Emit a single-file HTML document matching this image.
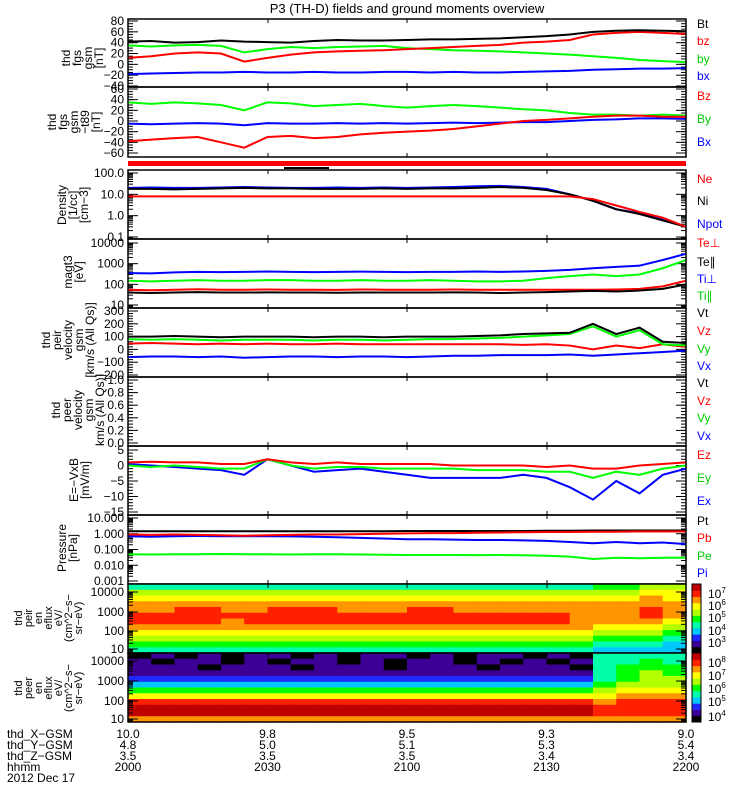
<!DOCTYPE html>
<html><head><meta charset="utf-8"><style>
html,body{margin:0;padding:0;background:#fff;width:750px;height:800px;overflow:hidden}
svg{display:block;font-family:"Liberation Sans",sans-serif}
</style></head><body>
<svg id="chart" width="750" height="800" viewBox="0 0 750 800" xmlns="http://www.w3.org/2000/svg">
<text x="407" y="13" font-size="13" text-anchor="middle">P3 (TH-D) fields and ground moments overview</text>
</svg>
<script>
// ---- data (25 samples, 2000 -> 2200 UT) ----
const bt=[42,43,40,41,44,42,41,40,43,45,44,44,45,46,46,47,48,50,52,55,60,62,63,62,61];
const bz=[12,15,20,22,20,5,12,18,22,24,25,26,28,30,32,34,36,40,42,45,55,58,60,58,56];
const by=[35,33,35,36,34,22,28,32,30,32,33,34,30,28,26,25,24,22,20,18,15,12,8,6,4];
const bx=[-18,-17,-16,-15,-15,-14,-15,-15,-14,-15,-15,-14,-14,-15,-14,-15,-15,-14,-13,-12,-10,-9,-8,-8,-7];
const bz2=[-38,-35,-32,-30,-40,-50,-30,-28,-32,-30,-25,-22,-20,-18,-15,-10,-5,0,2,5,8,10,10,8,8];
const by2=[35,32,35,33,30,20,35,33,28,30,32,28,25,28,30,28,25,22,20,15,12,12,10,12,10];
const bx2=[-5,-6,-5,-4,-5,-8,-4,-5,-5,-4,-5,-4,-5,-4,-3,-4,-3,-2,-2,0,2,3,5,5,4];
const ne=[8,8,8,8,8,8,8,8,8,8,8,8,8,8,8,8,8,8,8,8,6,3,1.5,0.8,0.3];
const ni=[18,18,17,18,19,20,19,19,18,18,18,19,18,19,19,20,22,20,16,10,5,2,1.2,0.6,0.3];
const npot=[20,21,20,20,21,22,21,20,20,21,20,21,20,21,22,24,25,22,18,10,5,2,1.3,0.7,0.3];
const tiPerp=[350,340,380,400,390,400,420,400,390,400,410,400,390,400,400,420,400,420,450,500,600,700,800,1500,3000];
const tiPar=[150,140,150,160,150,150,160,160,150,150,160,150,150,160,150,140,140,150,200,250,300,250,300,600,1500];
const tePerp=[55,52,55,58,55,55,56,55,55,54,56,55,55,55,56,55,55,55,55,55,55,56,60,80,150];
const tePar=[40,38,40,42,40,40,41,40,40,39,40,40,40,40,41,40,38,40,42,45,48,45,50,60,100];
const vt=[100,100,105,100,95,100,100,100,95,100,100,95,100,100,100,105,110,120,125,130,200,120,170,60,50];
const vz=[45,50,45,40,45,40,45,40,40,45,40,40,40,40,40,40,40,35,40,30,0,30,10,40,20];
const vy=[80,75,80,75,70,75,75,75,70,75,75,70,75,80,80,85,90,100,110,120,180,100,150,40,30];
const vx=[-60,-55,-55,-60,-55,-65,-60,-55,-55,-60,-55,-55,-60,-55,-50,-50,-45,-45,-45,-40,-50,-40,-30,-20,-10];
const ez=[1,1.2,1,1,0.5,0.5,2,1,0.5,1,0.5,0.5,0.5,0.5,0,0,0,0,-0.5,0,-1,-1,0,0.5,1];
const ey=[0,-0.5,0,-0.5,-1,-1,2,0,-1,-0.5,-0.5,-1,-1,-1,-1,-1.5,-1.5,-1.5,-2,-2,-4,-2,-3,-1,0];
const ex=[0.5,0,-0.5,-1,-1.5,-3,2,0,-2,-1.5,-1,-2,-3,-4,-4,-4,-4,-3,-4,-7,-11,-5,-9,-3,-1];
const pt=[1.45,1.45,1.45,1.45,1.45,1.45,1.45,1.45,1.45,1.45,1.45,1.45,1.5,1.5,1.5,1.5,1.5,1.5,1.55,1.55,1.6,1.6,1.6,1.6,1.6];
const pb=[0.9,0.85,0.9,0.85,0.8,0.75,0.8,0.85,0.9,0.9,0.95,1,1.05,1.1,1.1,1.15,1.2,1.25,1.3,1.3,1.35,1.35,1.4,1.4,1.4];
const pi=[0.7,0.65,0.7,0.72,0.7,0.7,0.7,0.68,0.65,0.6,0.55,0.5,0.45,0.45,0.42,0.4,0.4,0.38,0.35,0.3,0.25,0.3,0.25,0.28,0.22];
const pe=[0.05,0.048,0.05,0.05,0.052,0.05,0.05,0.048,0.05,0.05,0.048,0.046,0.045,0.045,0.045,0.044,0.045,0.043,0.04,0.035,0.025,0.03,0.028,0.03,0.03];
// spectrogram levels (hex 0..a), rows top(high E) -> bottom, 24 time bins
const ionSpec=["444444444444444444445566","666666666666666666666677","777777777777777777777787","888888888888888888888888","889988999888998888888898","999999999999999999988898","999989999999999999988887","888888888888888888887776","777777777777777777776665","666666666666666666665554","555555555555555555554443","444444444444444444443333"];
const eleSpec=["010101101011010110104444","101101011010110101014454","111011101110111011104555","111111111111111111114565","222222222222222222224566","333333333333333333335666","555555555555555555556777","777777777777777777777888","999999999999999999998999","aaaaaaaaaaaaaaaaaaaa9999","aaaaaaaaaaaaaaaaaaaa9999","888888888888888888888888"];
const xTickTop=["10.0","9.8","9.5","9.3","9.0"];
const yTickRow=["4.8","5.0","5.1","5.3","5.4"];
const zTickRow=["3.5","3.5","3.5","3.4","3.4"];
const hhmmRow=["2000","2030","2100","2130","2200"];

const svg=document.getElementById('chart');
const NS="http://www.w3.org/2000/svg";
const X0=128,X1=686;
function el(t,a,p){const e=document.createElementNS(NS,t);for(const k in a)e.setAttribute(k,a[k]);(p||svg).appendChild(e);return e;}
const xs=i=>X0+(X1-X0)*i/24;
const pal=["#000000","#3c0094","#1e28ff","#00c8ff","#00ffa8","#00ff00","#b4ff00","#ffff00","#ff9600","#ff2000","#c00000"];

function minorTicks(g,top,bot,y,minor){
  minor.forEach(v=>{const yy=y(v);if(yy<top||yy>bot)return;
    el('line',{x1:X0,x2:X0+5,y1:yy,y2:yy,stroke:'#000'},g);
    el('line',{x1:X1-5,x2:X1,y1:yy,y2:yy,stroke:'#000'},g);});
}
function linMinor(a,b,s){const r=[];for(let v=a;v<=b+1e-9;v+=s)r.push(v);return r;}
function logMinor(a,b){const r=[];for(let e=a;e<b;e++)for(let m=2;m<10;m++)r.push(m*Math.pow(10,e));return r;}

function panel(name,top,bot,scale,ticks,labels,ylab,labY,series,legend,minor){
  const g=el('g',{});
  
  
  const y=scale;
  ticks.forEach((v,i)=>{const yy=y(v);
    const t=el('text',{x:124,y:yy+4,'font-size':12,'text-anchor':'end'},g);t.textContent=labels[i];
    
    
    el('line',{x1:X0,x2:X0+10,y1:yy,y2:yy,stroke:'#000'},g);
    el('line',{x1:X1-10,x2:X1,y1:yy,y2:yy,stroke:'#000'},g);
  });
  minorTicks(g,top,bot,y,minor);
  [268,407,547].forEach(x=>{el('line',{x1:x,x2:x,y1:top,y2:top+4,stroke:'#000'},g);el('line',{x1:x,x2:x,y1:bot-4,y2:bot,stroke:'#000'},g);});
  const tx=el('text',{'font-size':12,'text-anchor':'middle',transform:`translate(${ylab.x},${labY}) rotate(-90)`},g);
  
  
  ylab.lines.forEach((l,i)=>{const s=el('tspan',{x:0,dy:i?11:0},tx);s.textContent=l;});
  series.forEach(s=>{
    const p=el('polyline',{fill:'none',stroke:s.c,'stroke-width':2,points:s.d.map((v,i)=>xs(i)+','+y(v)).join(' ')},g);
    
    
  });
  legend.forEach(l=>{const t=el('text',{x:697,y:l[2],'font-size':12,fill:l[1]},g);t.textContent=l[0];
    
    });
  el('rect',{x:X0,y:top,width:X1-X0,height:bot-top,fill:'none',stroke:'#000','stroke-width':1.5},g);
}
const lin=(v0,y0,v1,y1)=>v=>y0+(v-v0)*(y1-y0)/(v1-v0);
const lg=(v0,y0,v1,y1)=>v=>y0+(Math.log10(v)-Math.log10(v0))*(y1-y0)/(Math.log10(v1)-Math.log10(v0));

panel('panel-fgs-gsm',19,87,lin(80,21,-40,86),[80,60,40,20,0,-20,-40],["80","60","40","20","0","−20","−40"],{x:70,lines:["thd","fgs","gsm","[nT]"]},58,
 [{n:'bx-line',c:'#0000ff',d:bx},{n:'by-line',c:'#00ff00',d:by},{n:'bz-line',c:'#ff0000',d:bz},{n:'bt-line',c:'#000',d:bt}],
 [["Bt","#000",28],["bz","#ff0000",45],["by","#00cc00",63],["bx","#0000ff",80]],linMinor(-40,80,5));
panel('panel-fgs-t89',87,157,lin(60,89,-60,153),[60,40,20,0,-20,-40,-60],["60","40","20","0","−20","−40","−60"],{x:56,lines:["thd","fgs","gsm","−t89","[nT]"]},122,
 [{n:'bx-t89-line',c:'#0000ff',d:bx2},{n:'by-t89-line',c:'#00ff00',d:by2},{n:'bz-t89-line',c:'#ff0000',d:bz2}],
 [["Bz","#ff0000",100],["By","#00cc00",123],["Bx","#0000ff",146]],linMinor(-60,60,5));
el('rect',{x:X0,y:161,width:X1-X0,height:5,fill:'#ff0000',});
el('rect',{x:284,y:167,width:45,height:2,fill:'#000'});
panel('panel-density',170,239,lg(100,173,0.1,237),[100,10,1,0.1],["100.0","10.0","1.0","0.1"],{x:66,lines:["Density","[1/cc]","[cm−3]"]},205,
 [{n:'npot-line',c:'#0000ff',d:npot},{n:'ni-line',c:'#000',d:ni},{n:'ne-line',c:'#ff0000',d:ne}],
 [["Ne","#ff0000",183],["Ni","#000",205],["Npot","#0000ff",228]],logMinor(-2,3));
panel('panel-temperature',239,308,lg(10000,243,10,305),[10000,1000,100,10],["10000","1000","100","10"],{x:72,lines:["magt3","[eV]"]},272,
 [{n:'ti-perp-line',c:'#0000ff',d:tiPerp},{n:'ti-par-line',c:'#00ff00',d:tiPar},{n:'te-perp-line',c:'#ff0000',d:tePerp},{n:'te-par-line',c:'#000',d:tePar}],
 [["Te⊥","#ff0000",247],["Te∥","#000",266],["Ti⊥","#0000ff",283],["Ti∥","#00cc00",300]],logMinor(0,5));
panel('panel-ion-velocity',308,377,lin(300,311,-200,375),[300,200,100,0,-100,-200],["300","200","100","0","−100","−200"],{x:50,lines:["thd","peir","velocity","gsm","[km/s (All Qs)]"]},340,
 [{n:'vx-line',c:'#0000ff',d:vx},{n:'vz-line',c:'#ff0000',d:vz},{n:'vy-line',c:'#00ff00',d:vy},{n:'vt-line',c:'#000',d:vt}],
 [["Vt","#000",317],["Vz","#ff0000",335],["Vy","#00cc00",353],["Vx","#0000ff",370]],linMinor(-200,300,20));
panel('panel-electron-velocity',377,446,lin(1,380,0,443),[1,0.8,0.6,0.4,0.2,0],["1.0","0.8","0.6","0.4","0.2","0.0"],{x:60,lines:["thd","peer","velocity","gsm","km/s (All Qs)]"]},410,
 [],[["Vt","#000",387],["Vz","#ff0000",405],["Vy","#00cc00",422],["Vx","#0000ff",440]],linMinor(0,1,0.05));
panel('panel-efield',446,515,lin(5,450,-15,512),[5,0,-5,-10,-15],["5","0","−5","−10","−15"],{x:78,lines:["E=−VxB","[mV/m]"]},480,
 [{n:'ex-line',c:'#0000ff',d:ex},{n:'ey-line',c:'#00ff00',d:ey},{n:'ez-line',c:'#ff0000',d:ez}],
 [["Ez","#ff0000",459],["Ey","#00cc00",482],["Ex","#0000ff",505]],linMinor(-15,5,1));
panel('panel-pressure',515,584,lg(10,518,0.001,581),[10,1,0.1,0.01,0.001],["10.000","1.000","0.100","0.010","0.001"],{x:66,lines:["Pressure","[nPa]"]},548,
 [{n:'pt-line',c:'#000',d:pt},{n:'pi-line',c:'#0000ff',d:pi},{n:'pb-line',c:'#ff0000',d:pb},{n:'pe-line',c:'#00ff00',d:pe}],
 [["Pt","#000",525],["Pb","#ff0000",542],["Pe","#00cc00",560],["Pi","#0000ff",577]],logMinor(-3,2));

function spec(name,top,bot,rows,ticks,cbLabels,y){
  const g=el('g',{});
  
  
  const nr=rows.length,nc=rows[0].length,h=(bot-top)/nr,w=(X1-X0)/nc;
  rows.forEach((r,ri)=>{for(let ci=0;ci<nc;ci++){
    const c=el('rect',{x:X0+ci*w,y:top+ri*h,width:w+0.6,height:h+0.6,fill:pal[parseInt(r[ci],16)]},g);
    
    
  }});
  ticks.forEach(t=>{const tt=el('text',{x:124,y:t[1]+4,'font-size':12,'text-anchor':'end'},g);tt.textContent=t[0];
    el('line',{x1:X0,x2:X0+10,y1:t[1],y2:t[1],stroke:'#000'},g);el('line',{x1:X1-10,x2:X1,y1:t[1],y2:t[1],stroke:'#000'},g);});
  minorTicks(g,top,bot,y,logMinor(0,4));
  [268,407,547].forEach(x=>{el('line',{x1:x,x2:x,y1:top,y2:top+4,stroke:'#000'},g);});
  el('rect',{x:X0,y:top,width:X1-X0,height:bot-top,fill:'none',stroke:'#000','stroke-width':1.5},g);
  for(let i=0;i<=10;i++){el('rect',{x:692,y:bot-(i+1)*(bot-top)/11,width:9,height:(bot-top)/11+0.5,fill:pal[i]},g);}
  el('rect',{x:692,y:top,width:9,height:bot-top,fill:'none',stroke:'#000'},g);
  cbLabels.forEach(l=>{const t=el('text',{x:708,y:l[1]+4,'font-size':12},g);t.textContent='10';
    const s=el('tspan',{dy:-5,'font-size':8},t);s.textContent=l[0];});
}
spec('ion-spectrogram',584,653,ionSpec,[["10000",592],["1000",612],["100",631],["10",649]],[["7",594],["6",606],["5",618],["4",631],["3",643]],lg(10000,592,10,649));
spec('electron-spectrogram',653,722,eleSpec,[["10000",661],["1000",681],["100",701],["10",719]],[["8",663],["7",676],["6",689],["5",702],["4",717]],lg(10000,661,10,719));
[["thd","peir","en","eflux","eV/","(cm^2−s−","sr−eV)"],["thd","peer","en","eflux","eV/","(cm^2−s−","sr−eV)"]].forEach((ls,k)=>{
  const tx=el('text',{'font-size':11,'text-anchor':'middle',transform:`translate(${22},${k?688:618}) rotate(-90)`});
  
  
  ls.forEach((l,i)=>{const s=el('tspan',{x:0,dy:i?10:0},tx);s.textContent=l;});
});
const rowsTxt=[["thd_X−GSM",xTickTop],["thd_Y−GSM",yTickRow],["thd_Z−GSM",zTickRow],["hhmm",hhmmRow]];
rowsTxt.forEach((r,i)=>{const yy=738+i*11;
  const t=el('text',{x:7,y:yy,'font-size':12});t.textContent=r[0];
  
  
  r[1].forEach((v,j)=>{const tt=el('text',{x:X0+(X1-X0)*j/4,y:yy,'font-size':12,'text-anchor':'middle'});tt.textContent=v;
    
    });
});
const d=el('text',{x:7,y:782,'font-size':12});d.textContent='2012 Dec 17';


</script>
</body></html>
